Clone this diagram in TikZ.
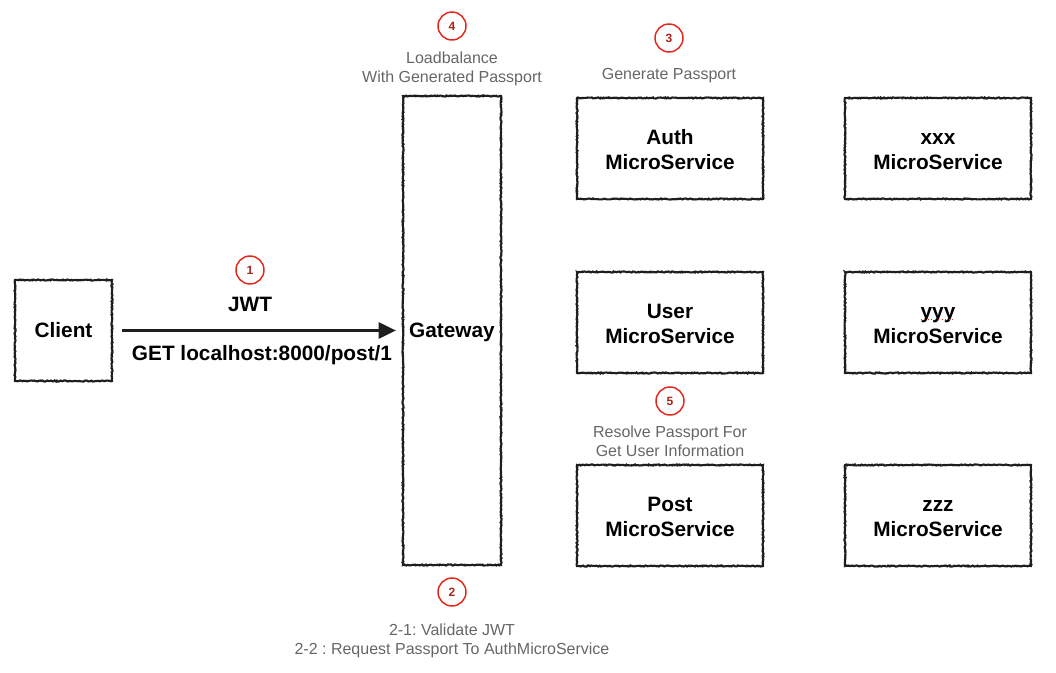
\documentclass[tikz,border=0pt]{standalone}
\usepackage{fontspec}
\setmainfont{Liberation Sans}
\frenchspacing
\usetikzlibrary{arrows.meta,decorations.pathmorphing}
\definecolor{stepred}{HTML}{E5261B}
\definecolor{stepnum}{HTML}{A8231A}
\definecolor{note}{HTML}{666666}
\definecolor{ink}{HTML}{1E1E1E}
\pgfmathsetseed{7}
\newcommand\svcbody[1]{\raisebox{-2.6pt}[\height][\depth]{\begin{tabular}{@{}c@{}}#1\end{tabular}}}
\tikzset{
  svc/.style={draw=ink, line width=1.6pt, decorate,
    decoration={random steps, segment length=0.9pt, amplitude=0.4pt},
    align=center, font=\fontsize{15.6}{18.8}\selectfont\bfseries,
    inner sep=0pt},
  stepmark/.style={circle, draw=stepred, line width=1.1pt, minimum size=21pt,
    inner sep=0pt, text=stepnum, font=\fontsize{9}{10}\selectfont\bfseries},
  notetext/.style={text=note, align=center, font=\fontsize{12}{14.3}\selectfont},
  arrowlabel/.style={font=\fontsize{15.6}{18.8}\selectfont\bfseries}
}
\begin{document}
\begin{tikzpicture}[x=0.75pt, y=-0.75pt]
\useasboundingbox (0,0) rectangle (1056,673);
% boxes
\node[svc, minimum width=72.75pt, minimum height=75.75pt] (client) at (63.5,330.5) {Client};
\node[svc, minimum width=73.5pt, minimum height=351.75pt, text depth=0pt] (gateway) at (452,330.5) {Gateway};
\node[svc, minimum width=139.5pt, minimum height=75.75pt] (auth) at (670,148.5) {\svcbody{Auth\\MicroService}};
\node[svc, minimum width=139.5pt, minimum height=75.75pt] (xxx) at (938,148.5) {\svcbody{xxx\\MicroService}};
\node[svc, minimum width=139.5pt, minimum height=75.75pt] (user) at (670,322.5) {\svcbody{User\\MicroService}};
\node[svc, minimum width=139.5pt, minimum height=75.75pt] (yyy) at (938,322.5) {\svcbody{yyy\\MicroService}};
\node[svc, minimum width=139.5pt, minimum height=75.75pt] (post) at (670,515.5) {\svcbody{Post\\MicroService}};
\node[svc, minimum width=139.5pt, minimum height=75.75pt] (zzz) at (938,515.5) {\svcbody{zzz\\MicroService}};
% spell-check underline under yyy
\coordinate (yyyul1) at (921,319.5);
\coordinate (yyyul2) at (955,319.5);
\draw[stepred, line width=0.6pt, dotted] (yyyul1) -- (yyyul2);
% arrow
\draw[ink, line width=2.2pt, -{Triangle[length=13pt, width=12pt]},
  shorten <=6.75pt, shorten >=4.5pt]
  (client.east) -- (client.east -| gateway.west);
\node[arrowlabel] (jwt) at (250,304) {JWT};
\node[arrowlabel] (getlbl) at (262,355) {GET localhost:8000/post/1};
% steps
\node[stepmark] (s1) at (250,270) {1};
\node[stepmark] (s4) at (452,26) {4};
\node[stepmark] (s3) at (669,38) {3};
\node[stepmark] (s5) at (670,401) {5};
\node[stepmark] (s2) at (452,592) {2};
% notes
\node[notetext] (n4) at (452,68.5) {Loadbalance\\With Generated Passport};
\node[notetext] (n3) at (669,76) {Generate Passport};
\node[notetext] (n5) at (670,441.5) {Resolve Passport For\\Get User Information};
\node[notetext] (n2) at (452,641) {2-1: Validate JWT\\2-2 : Request Passport To AuthMicroService};
\end{tikzpicture}
\end{document}
